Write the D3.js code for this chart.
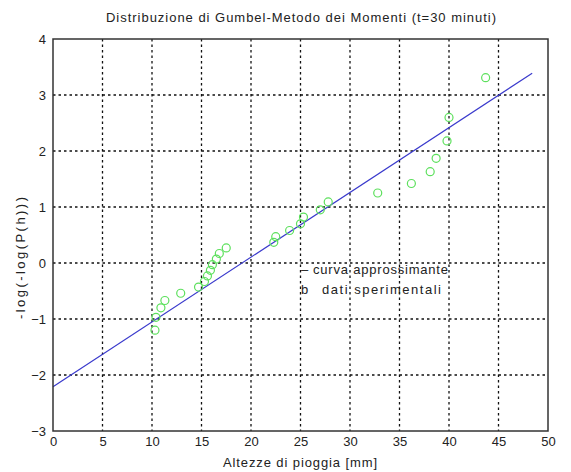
<!DOCTYPE html>
<html><head><meta charset="utf-8">
<script src="https://cdn.jsdelivr.net/npm/d3@7/dist/d3.min.js"></script>
<style>body{margin:0;background:#fff}text{font-family:"Liberation Sans",Arial,sans-serif;fill:#222}</style>
</head><body>
<script>
const titleText = "Distribuzione di Gumbel-Metodo dei Momenti (t=30 minuti)";
const xLabel = "Altezze di pioggia [mm]";
const yLabel = "-log(-log(P(h)))";
const xTicks = [0,5,10,15,20,25,30,35,40,45,50];
const yTicks = [-3,-2,-1,0,1,2,3,4];
const dataX = [10.3,10.4,10.9,11.3,12.9,14.7,15.3,15.6,15.9,16.1,16.5,16.8,17.5,22.3,22.5,23.9,25.0,25.3,27.0,27.8,32.8,36.2,38.1,38.7,39.8,40.0,43.7];
const dataY = [-1.20,-0.97,-0.80,-0.67,-0.54,-0.43,-0.33,-0.23,-0.13,-0.03,0.07,0.17,0.27,0.37,0.47,0.58,0.70,0.82,0.95,1.09,1.25,1.42,1.63,1.87,2.18,2.60,3.31];
const lineX = [0, 48.4];
const lineY = [-2.21, 3.39];
const legendLabels = ["curva approssimante","dati sperimentali"];
const legendMarks = ["\u2013","b"];

const W=571,H=472;
const L=53,R=548,T=39,B=431;
const svg=d3.select("body").append("svg").attr("width",W).attr("height",H);
const x=d3.scaleLinear().domain([0,50]).range([L,R]);
const y=d3.scaleLinear().domain([-3,4]).range([B,T]);

// grid
const g=svg.append("g");
g.selectAll(".vg").data(xTicks.slice(1,-1)).enter().append("line")
 .attr("x1",d=>x(d)).attr("x2",d=>x(d)).attr("y1",T).attr("y2",B)
 .attr("stroke","#111").attr("stroke-width",1.3).attr("stroke-dasharray","2.5,3");
g.selectAll(".hg").data(yTicks.slice(1,-1)).enter().append("line")
 .attr("y1",d=>y(d)).attr("y2",d=>y(d)).attr("x1",L).attr("x2",R)
 .attr("stroke","#111").attr("stroke-width",1.3).attr("stroke-dasharray","2.5,3");

// fitted line
svg.append("path").datum(d3.zip(lineX,lineY))
 .attr("d",d3.line().x(d=>x(d[0])).y(d=>y(d[1])))
 .attr("stroke","#3a3acc").attr("stroke-width",1.2).attr("fill","none");

// points
svg.selectAll(".pt").data(d3.zip(dataX,dataY)).enter().append("circle")
 .attr("cx",d=>x(d[0])).attr("cy",d=>y(d[1])).attr("r",4)
 .attr("fill","none").attr("stroke","#5de05d").attr("stroke-width",1.2);

// axes
const xa=svg.append("g").attr("transform",`translate(0,${B})`)
 .call(d3.axisBottom(x).tickValues(xTicks).tickSize(0).tickPadding(6));
const ya=svg.append("g").attr("transform",`translate(${L},0)`)
 .call(d3.axisLeft(y).tickValues(yTicks).tickSize(0).tickPadding(7).tickFormat(d3.format("d")));
[xa,ya].forEach(a=>{a.select(".domain").remove();a.selectAll("text").attr("font-size",13).attr("fill","#222").attr("font-family","Liberation Sans, Arial, sans-serif");});
svg.append("rect").attr("x",L).attr("y",T).attr("width",R-L).attr("height",B-T)
 .attr("fill","none").attr("stroke","#333").attr("stroke-width",1.5);

// title & labels
svg.append("text").attr("x",301).attr("y",22).attr("text-anchor","middle").attr("font-size",13)
 .attr("textLength",390).attr("lengthAdjust","spacing").text(titleText);
svg.append("text").attr("x",300).attr("y",467).attr("text-anchor","middle").attr("font-size",13)
 .attr("textLength",154).attr("lengthAdjust","spacing").text(xLabel);
svg.append("text").attr("transform",`translate(25,${(T+B)/2+23}) rotate(-90)`).attr("text-anchor","middle").attr("font-size",13)
 .attr("textLength",122).attr("lengthAdjust","spacing").text(yLabel);

// legend (no box)
const legW=[135,119];
legendLabels.forEach((lab,i)=>{
  svg.append("text").attr("x",301).attr("y",274+i*20).attr("font-size",13).text(legendMarks[i]);
  svg.append("text").attr("x",i===0?313:322).attr("y",274+i*20).attr("font-size",13)
   .attr("textLength",legW[i]).attr("lengthAdjust","spacing").text(lab);
});
</script>
</body></html>
